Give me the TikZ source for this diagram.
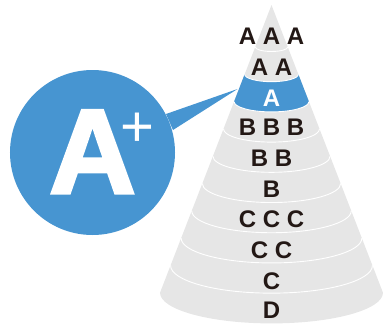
\documentclass[tikz,border=0pt]{standalone}
\usepackage{fontspec}
\setmainfont{Liberation Sans}
\newfontfamily\heavyfont[FakeBold=2.5]{Liberation Sans Bold}
\definecolor{blu}{HTML}{4795D1}
\definecolor{gry}{HTML}{E6E6E6}
\definecolor{ink}{HTML}{231815}
\newcommand{\cellx}[1]{\makebox[24bp]{#1}}
\tikzset{
  lvl/.style={font=\fontsize{24bp}{24bp}\selectfont\bfseries, text=ink, inner sep=0pt, anchor=base},
  sep/.style={draw=white, line width=0.9bp}
}
\begin{document}
\begin{tikzpicture}[x=1bp,y=-1bp]
\useasboundingbox (0,0) rectangle (384,327);
\def\cx{271.5}
% cone body
\fill[gry] (\cx,5) -- (\cx-111.5,292.7) arc[start angle=180,end angle=0,x radius=111.5,y radius=30.7] -- cycle;
% highlighted band
\fill[blu] (\cx-26.86,74.3) arc[start angle=180,end angle=0,x radius=26.86,y radius=7.39] -- (\cx+37.44,101.6) arc[start angle=0,end angle=180,x radius=37.44,y radius=10.3] -- cycle;
% separators
\foreach \k in {0,...,8}{
  \pgfmathsetmacro\yy{47+27.3*\k}
  \pgfmathsetmacro\ww{0.3876*(\yy-5)}
  \pgfmathsetmacro\rr{0.275*\ww}
  \draw[sep] (\cx-\ww,\yy) arc[start angle=180,end angle=0,x radius=\ww,y radius=\rr];
}
% pointer
\coordinate (pu) at (166,114);
\coordinate (pt) at (237.5,89);
\coordinate (pl) at (173,130);
\fill[blu] (pu) -- (pt) -- (pl) -- cycle;
% badge
\node[circle, fill=blu, minimum size=165bp, inner sep=0pt] (badge) at (92.5,152.5) {};
\node[font=\fontsize{120bp}{120bp}\heavyfont, text=white, inner sep=0pt, anchor=base] (bigA) at (92.5,193)
  {A\rlap{\kern-15.2bp\raisebox{47bp}{\fontsize{58bp}{58bp}\normalfont +}}};
% level labels
\node[lvl] (t1) at (\cx,44) {\cellx{A}\cellx{A}\cellx{A}};
\node[lvl] (t2) at (\cx,75) {\cellx{A}\cellx{A}};
\node[lvl, text=white] (t3) at (\cx,106) {\cellx{A}};
\node[lvl] (t4) at (\cx,135) {\cellx{B}\cellx{B}\cellx{B}};
\node[lvl] (t5) at (\cx,166) {\cellx{B}\cellx{B}};
\node[lvl] (t6) at (\cx,197) {\cellx{B}};
\node[lvl] (t7) at (\cx,227) {\cellx{C}\cellx{C}\cellx{C}};
\node[lvl] (t8) at (\cx,258) {\cellx{C}\cellx{C}};
\node[lvl] (t9) at (\cx,289) {\cellx{C}};
\node[lvl] (t10) at (\cx,318) {\cellx{D}};
\end{tikzpicture}
\end{document}
